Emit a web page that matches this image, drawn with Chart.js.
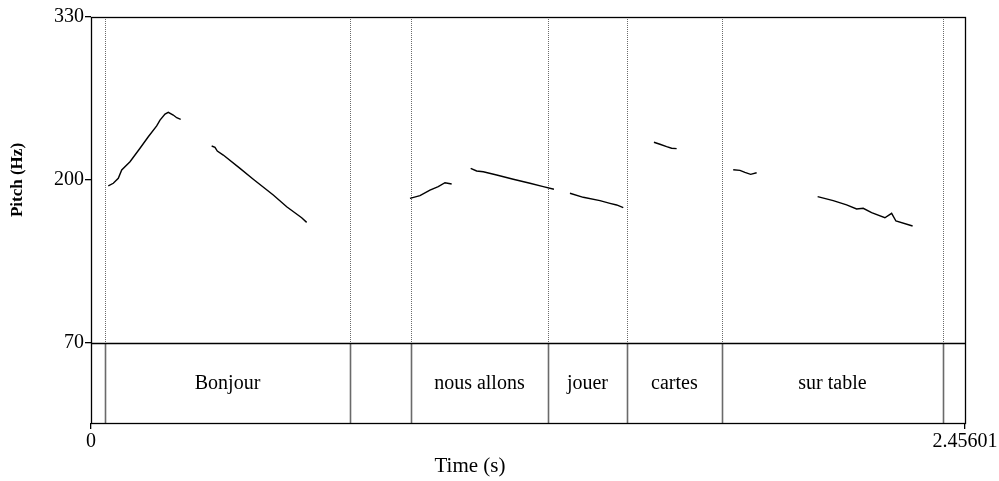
<!DOCTYPE html>
<html>
<head>
<meta charset="utf-8">
<script src="https://cdn.jsdelivr.net/npm/chart.js@4/dist/chart.umd.min.js"></script>
<style>
  html, body { margin: 0; padding: 0; background: #fff; }
  #wrap { width: 999px; height: 481px; }
</style>
</head>
<body>
<div id="wrap"><canvas id="c" width="999" height="481"></canvas></div>
<script>
// Axis ranges and ticks
const timeMax = 2.45601;
const pitchMin = 70;
const pitchMax = 330;
const pitchTicks = [70, 200, 330];
const timeTicks = [0, 2.45601];

// TextGrid tier: interval boundaries (s) and their labels
const intervalBounds = [0, 0.0393, 0.728, 0.899, 1.284, 1.506, 1.773, 2.394, 2.45601];
const intervalLabels = ['', 'Bonjour', '', 'nous allons', 'jouer', 'cartes', 'sur table', ''];

// Pitch contour pieces (time in s, F0 in Hz)
const bonTime = [0.0486, 0.0627, 0.0767, 0.0863, 0.1096, 0.1377, 0.161, 0.1846, 0.1939, 0.208, 0.2172, 0.2312, 0.2408, 0.2521];
const bonHz   = [195.4, 197.4, 201.4, 208, 214.6, 225.3, 234.5, 243.1, 247.8, 252.6, 254, 251.8, 249.7, 248.4];

const jourTime = [0.3391, 0.3484, 0.3549, 0.3717, 0.4187, 0.456, 0.5122, 0.5499, 0.592, 0.606];
const jourHz   = [227.1, 226.1, 223.1, 219.9, 209.3, 200.6, 188, 178.7, 169.9, 166.2];

const nousTime = [0.8963, 0.9244, 0.9525, 0.9758, 0.9947, 1.0135];
const nousHz   = [185.4, 187.5, 192, 194.7, 197.8, 196.8];

const allonsTime = [1.0669, 1.0837, 1.1023, 1.14, 1.1866, 1.2335, 1.2709, 1.3009];
const allonsHz   = [209.3, 207.2, 206.6, 204, 200.6, 197.4, 194.7, 192.6];

const jouerTime = [1.3459, 1.3833, 1.4302, 1.4583, 1.4771, 1.4957];
const jouerHz   = [189.4, 186.2, 183.5, 181.4, 180.1, 177.9];

const cartesTime = [1.5819, 1.5988, 1.6176, 1.6316, 1.6457];
const cartesHz   = [230.1, 228.5, 226.6, 225.3, 225];

const surTime = [1.8047, 1.8236, 1.8376, 1.8536, 1.8705];
const surHz   = [208.2, 207.7, 206.1, 204.5, 205.8];

const tableTime = [2.0419, 2.0857, 2.1233, 2.1514, 2.17, 2.1936, 2.2309, 2.2498, 2.2619, 2.3088];
const tableHz   = [186.7, 183.5, 180.1, 176.9, 177.4, 173.9, 169.9, 173.4, 167.3, 163.3];

const pieces = [
  [bonTime, bonHz], [jourTime, jourHz], [nousTime, nousHz], [allonsTime, allonsHz],
  [jouerTime, jouerHz], [cartesTime, cartesHz], [surTime, surHz], [tableTime, tableHz]
];

// Plot geometry: pitch panel 326 px tall, tier panel 80 px beneath it
const pitchPx = 326, tierPx = 80;
const yLow = pitchMin - (pitchMax - pitchMin) * tierPx / pitchPx;

const serif = "'Liberation Serif', 'Times New Roman', serif";

const datasets = pieces.map(([t, f]) => ({
  data: t.map((x, i) => ({ x: x, y: f[i] })),
  borderColor: '#000',
  borderWidth: 1.4,
  pointRadius: 0,
  tension: 0,
  fill: false
}));

const tierPlugin = {
  id: 'tier',
  beforeDatasetsDraw(chart) {
    const { ctx, chartArea: a, scales: { x, y } } = chart;
    const yTier = Math.round(y.getPixelForValue(pitchMin)) + 0.5;
    ctx.save();
    // interval boundaries: dotted over the pitch panel, solid in the tier
    ctx.strokeStyle = '#6a6a6a';
    for (let i = 1; i < intervalBounds.length - 1; i++) {
      const px = Math.round(x.getPixelForValue(intervalBounds[i])) + 0.5;
      ctx.lineWidth = 1;
      ctx.setLineDash([1, 1]);
      ctx.beginPath(); ctx.moveTo(px, a.top); ctx.lineTo(px, yTier); ctx.stroke();
      ctx.setLineDash([]);
      ctx.lineWidth = 1.6;
      ctx.beginPath(); ctx.moveTo(px, yTier); ctx.lineTo(px, a.bottom); ctx.stroke();
    }
    // tier separator
    ctx.strokeStyle = '#000';
    ctx.lineWidth = 1.3;
    ctx.beginPath(); ctx.moveTo(a.left, yTier); ctx.lineTo(a.right, yTier); ctx.stroke();
    // interval labels
    ctx.fillStyle = '#000';
    ctx.font = '20px ' + serif;
    ctx.textAlign = 'center';
    ctx.textBaseline = 'middle';
    const yMid = (yTier + a.bottom) / 2;
    for (let i = 0; i < intervalLabels.length; i++) {
      if (!intervalLabels[i]) continue;
      const cx = (x.getPixelForValue(intervalBounds[i]) + x.getPixelForValue(intervalBounds[i + 1])) / 2;
      ctx.fillText(intervalLabels[i], cx, yMid);
    }
    ctx.restore();
  },
  afterDraw(chart) {
    const { ctx, chartArea: a, scales: { y } } = chart;
    ctx.save();
    ctx.strokeStyle = '#000';
    ctx.lineWidth = 1.3;
    ctx.strokeRect(Math.round(a.left) + 0.5, Math.round(a.top) + 0.5,
                   Math.round(a.right - a.left), Math.round(a.bottom - a.top));
    // axis titles
    ctx.fillStyle = '#000';
    ctx.textAlign = 'center';
    ctx.textBaseline = 'middle';
    ctx.font = '21px ' + serif;
    ctx.fillText('Time (s)', 470, 466);
    const yMidPitch = (y.getPixelForValue(pitchMin) + y.getPixelForValue(pitchMax)) / 2;
    ctx.translate(18, yMidPitch);
    ctx.rotate(-Math.PI / 2);
    ctx.font = 'bold 17px ' + serif;
    ctx.fillText('Pitch (Hz)', 0, 0);
    ctx.restore();
  }
};

new Chart(document.getElementById('c'), {
  type: 'line',
  data: { datasets },
  plugins: [tierPlugin],
  options: {
    responsive: false,
    animation: false,
    events: [],
    layout: { padding: { top: 17, right: 34, left: 0, bottom: 0 } },
    plugins: { legend: { display: false }, tooltip: { enabled: false } },
    scales: {
      x: {
        type: 'linear',
        min: 0, max: timeMax,
        afterBuildTicks: s => { s.ticks = timeTicks.map(v => ({ value: v })); },
        afterFit: s => { s.height = 58; },
        ticks: {
          autoSkip: false, maxRotation: 0, padding: 1,
          color: '#000', font: { family: serif, size: 20 },
          callback: v => (v === 0 ? '0' : String(timeMax))
        },
        grid: { drawOnChartArea: false, drawTicks: true, tickLength: 6, color: '#000', lineWidth: 1.3 },
        border: { display: false }
      },
      y: {
        type: 'linear',
        min: yLow, max: pitchMax,
        afterBuildTicks: s => { s.ticks = pitchTicks.map(v => ({ value: v })); },
        afterFit: s => { s.width = 91; },
        ticks: {
          autoSkip: false, padding: 1,
          color: '#000', font: { family: serif, size: 20 },
          callback: v => String(v)
        },
        grid: { drawOnChartArea: false, drawTicks: true, tickLength: 6, color: '#000', lineWidth: 1.3 },
        border: { display: false }
      }
    }
  }
});
</script>
</body>
</html>
